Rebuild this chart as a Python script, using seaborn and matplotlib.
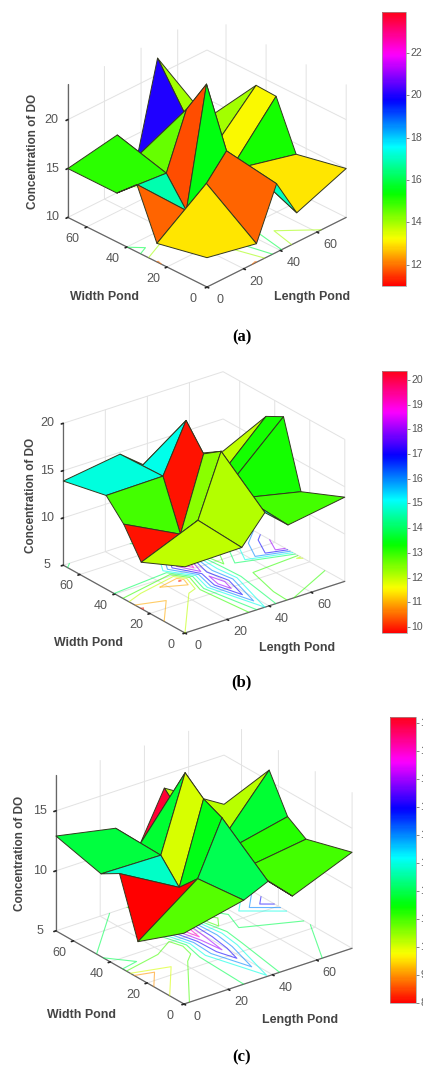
import numpy as np
import matplotlib
matplotlib.use('Agg')
import matplotlib.pyplot as plt
import seaborn as sns
from matplotlib.cm import ScalarMappable
from matplotlib.colors import Normalize
from mpl_toolkits.mplot3d import proj3d

# sampling positions along the pond sides
length_pos = [0, 27, 38, 49, 76]
width_pos = [0, 25, 35, 45, 69.5]

# concentration of DO, rows = length, columns = width
do_a = [[13.0, 11.9, 16.9, 15.0, 15.0],
        [11.9, 15.5, 11.7, 14.5, 15.9],
        [17.0, 17.8, 23.6, 20.0, 12.7],
        [13.0, 15.2, 13.2, 14.0, 21.7],
        [15.0, 13.9, 18.8, 18.9, 13.0]]
do_b = [[12.0, 9.9, 12.9, 14.9, 13.9],
        [12.1, 12.4, 9.9, 15.0, 14.8],
        [15.0, 18.9, 17.6, 20.1, 12.9],
        [12.9, 13.2, 13.2, 12.0, 13.0],
        [13.9, 11.9, 18.8, 17.8, 11.6]]
do_c = [[10.9, 8.0, 12.8, 11.9, 12.9],
        [12.0, 11.6, 10.0, 11.8, 11.9],
        [12.9, 16.0, 16.7, 18.0, 9.9],
        [11.0, 11.2, 11.8, 10.2, 13.9],
        [13.0, 11.9, 12.9, 15.9, 10.9]]

pond_ticks = [0, 20, 40, 60]
z_ticks_a = [10, 15, 20]
z_ticks_b = [5, 10, 15, 20]
z_ticks_c = [5, 10, 15]
# the contour levels on the floor are the colorbar ticks
cbar_ticks_a = [12, 14, 16, 18, 20, 22]
cbar_ticks_b = [10, 11, 12, 13, 14, 15, 16, 17, 18, 19, 20]
cbar_ticks_c = [8, 9, 10, 11, 12, 13, 14, 15, 16, 17, 18]

W, H = 423, 1067
sns.set_theme(style='white')
plt.rcParams['font.family'] = ['Liberation Sans', 'DejaVu Sans']
fig = plt.figure(figsize=(W / 100, H / 100), dpi=100)
hsv = sns.color_palette('hsv', as_cmap=True)
GRAY = '#555555'


def corner_px(ax, x, y, z):
    x2, y2, _ = proj3d.proj_transform(x, y, z, ax.get_proj())
    return ax.transData.transform((x2, y2))


def px_text(x, y, s, **kw):
    # x, y in picture pixels from the top left
    fig.text(x / W, 1 - y / H, s, ha=kw.pop('ha', 'center'), va='center', **kw)


def fit_axes(ax, floor, front, right):
    # move the 3d box so its floor corners land where they are in the picture
    target_f = np.array([front[0], H - front[1]], dtype=float)
    target_r = np.array([right[0], H - right[1]], dtype=float)
    size = 300.0
    for k in range(3):
        ax.set_position([0.1, 0.1, size / W, size / H])
        ax.apply_aspect()
        f = corner_px(ax, 0, 0, floor)
        r = corner_px(ax, length_pos[-1], 0, floor)
        size *= np.linalg.norm(target_r - target_f) / np.linalg.norm(r - f)
    ax.set_position([0.1, 0.1, size / W, size / H])
    ax.apply_aspect()
    f = corner_px(ax, 0, 0, floor)
    left = 0.1 + (target_f[0] - f[0]) / W
    bottom = 0.1 + (target_f[1] - f[1]) / H
    ax.set_position([left, bottom, size / W, size / H])
    ax.apply_aspect()


def draw_panel(z, zlim, zticks, vlim, cticks, elev, azim, zbox, front, right,
               cbar_box, clabel_x, width_xy, length_xy, conc_xy, cap, cap_xy):
    ax = fig.add_axes([0.1, 0.1, 0.5, 0.2], projection='3d', proj_type='ortho',
                      computed_zorder=False)
    ax.patch.set_alpha(0)
    X, Y = np.meshgrid(length_pos, width_pos, indexing='ij')
    Z = np.array(z)
    norm = Normalize(vlim[0], vlim[1])

    ax.contour(X, Y, Z, levels=cticks, zdir='z', offset=zlim[0], cmap=hsv,
               vmin=vlim[0], vmax=vlim[1], linewidths=0.8, alpha=0.6, zorder=1)
    ax.plot_surface(X, Y, Z, rstride=1, cstride=1, facecolors=hsv(norm(Z)),
                    shade=False, edgecolor='#33381f', linewidth=0.7, zorder=2)

    ax.set_xlim(length_pos[0], length_pos[-1])
    ax.set_ylim(width_pos[0], width_pos[-1])
    ax.set_zlim(zlim)
    ax.set_xticks(pond_ticks)
    ax.set_yticks(pond_ticks)
    ax.set_zticks(zticks)
    ax.set_xticklabels([])
    ax.set_yticklabels([])
    ax.set_zticklabels([])
    ax.set_box_aspect((1, 1, zbox))
    ax.view_init(elev=elev, azim=azim)
    for axis in (ax.xaxis, ax.yaxis, ax.zaxis):
        axis.set_pane_color((1, 1, 1, 0))
        axis.pane.set_edgecolor('#dddddd')
        axis.line.set_color('#666666')
        axis.line.set_linewidth(0.9)
        axis._axinfo['grid'].update(color='#e2e2e2', linewidth=0.7)
        axis._axinfo['tick'].update(inward_factor=0.15, outward_factor=0.0)
    fit_axes(ax, zlim[0], front, right)

    # tick labels sit at a fixed pixel offset from their tick
    for t in pond_ticks:
        p = corner_px(ax, t, 0, zlim[0])
        px_text(p[0] + 13, H - p[1] + 13, str(t), fontsize=9, color=GRAY)
        p = corner_px(ax, 0, t, zlim[0])
        px_text(p[0] - 14, H - p[1] + 12, str(t), fontsize=9, color=GRAY)
    for t in zticks:
        p = corner_px(ax, 0, width_pos[-1], t)
        px_text(p[0] - 16, H - p[1], str(t), fontsize=9, color=GRAY)

    cax = fig.add_axes([cbar_box[0] / W, 1 - cbar_box[3] / H,
                        (cbar_box[2] - cbar_box[0]) / W,
                        (cbar_box[3] - cbar_box[1]) / H])
    cb = fig.colorbar(ScalarMappable(norm=norm, cmap=hsv), cax=cax)
    cb.set_ticks(cticks)
    cb.set_ticklabels([])
    cb.outline.set_edgecolor('#999999')
    cb.outline.set_linewidth(0.5)
    cax.tick_params(color=GRAY, length=2, width=0.5)
    for t in cticks:
        ypos = cbar_box[3] - (t - vlim[0]) / (vlim[1] - vlim[0]) * (cbar_box[3] - cbar_box[1])
        px_text(clabel_x, ypos, str(t), fontsize=7.6, color=GRAY, ha='left')

    px_text(width_xy[0], width_xy[1], 'Width Pond', fontsize=8.9,
            fontweight='bold', color='#444444')
    px_text(length_xy[0], length_xy[1], 'Length Pond', fontsize=8.9,
            fontweight='bold', color='#444444')
    px_text(conc_xy[0], conc_xy[1], 'Concentration of DO', fontsize=8.5,
            fontweight='bold', color='#444444', rotation=90)
    px_text(cap_xy[0], cap_xy[1], cap, fontsize=12, fontweight='bold',
            family='Liberation Serif', color='black')


draw_panel(do_a, (10, 23.6), z_ticks_a, (11, 23.94), cbar_ticks_a, 30, -135, 0.78,
           (207, 287), (346, 217), (382, 12, 406, 286), 410,
           (104, 297), (312, 297), (33, 151), '(a)', (242, 337))
draw_panel(do_b, (5, 20), z_ticks_b, (9.76, 20.36), cbar_ticks_b, 25.1, -127.3, 0.78,
           (185, 633), (345, 582), (382, 371, 407, 633), 411,
           (88, 643), (297, 648), (31, 495), '(b)', (241, 682))
draw_panel(do_c, (5, 18), z_ticks_c, (8, 18.2), cbar_ticks_c, 25.8, -127.3, 0.82,
           (184, 1004), (352, 948), (390, 717, 416, 1003), 420.5,
           (81, 1015), (300, 1020), (20, 853), '(c)', (242, 1057))

fig.savefig('out.png', dpi=100)
